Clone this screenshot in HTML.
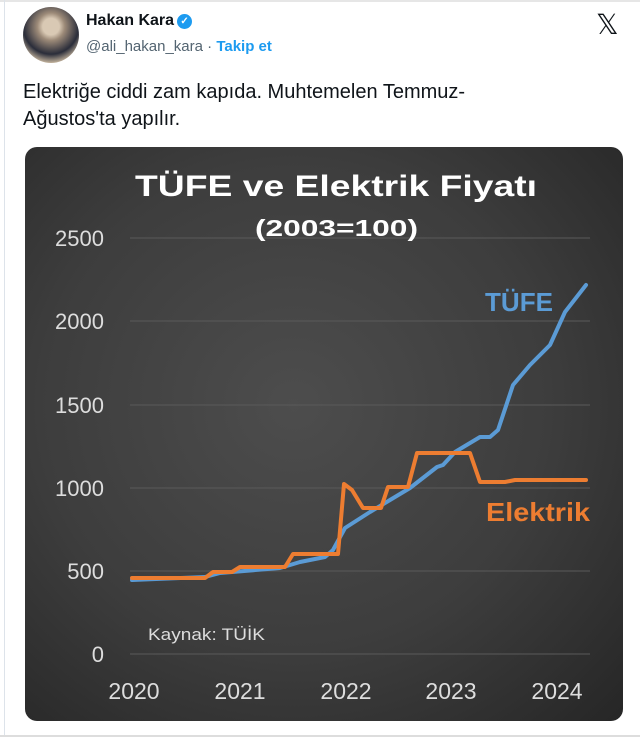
<!DOCTYPE html>
<html><head><meta charset="utf-8"><style>
body{margin:0;width:640px;height:737px;background:#fff;font-family:"Liberation Sans",sans-serif;position:relative;overflow:hidden}
.lb{position:absolute;left:4px;top:0;width:1px;height:737px;background:#dde3ea}
.tb{position:absolute;left:0;top:0;width:640px;height:2px;background:#e6e6e6}
.av{position:absolute;left:23px;top:7px;width:56px;height:56px;border-radius:50%;background:radial-gradient(circle at 50% 35%,#d9c9b4 0 18%,#9c8a78 30%,#2a2d3a 60%,#c9b8a0 80%)}
.name{position:absolute;left:86px;top:12px;font-weight:bold;font-size:16px;color:#0f1419}
.ver{display:inline-block;width:15px;height:15px;border-radius:50%;background:#1d9bf0;color:#fff;font-size:10px;text-align:center;line-height:15px;vertical-align:1px;margin-left:3px}
.handle{position:absolute;left:86px;top:38px;font-size:15px;color:#536471}
.handle b{color:#1d9bf0}
.x{position:absolute;left:596px;top:8px;font-size:28px;color:#0f1419}
.txt{position:absolute;left:23px;top:79px;font-size:20px;line-height:27px;color:#0f1419}
.card{position:absolute;left:25px;top:147px;width:598px;height:574px;border-radius:12px;background:radial-gradient(ellipse at 45% 45%,#4d4d4d 0%,#3d3d3d 55%,#262626 100%)}
.bot{position:absolute;left:0;top:735px;width:640px;height:2px;background:#ddd}
</style></head><body>
<div class="tb"></div><div class="lb"></div>
<div class="av"></div>
<div class="name">Hakan Kara<span class="ver">✓</span></div>
<div class="handle">@ali_hakan_kara · <b>Takip et</b></div>
<div class="x">𝕏</div>
<div class="txt">Elektriğe ciddi zam kapıda. Muhtemelen Temmuz-<br>Ağustos'ta yapılır.</div>
<div class="card"></div>
<svg width="640" height="737" style="position:absolute;left:0;top:0" font-family="Liberation Sans, sans-serif">
<g stroke="#5a5a5a" stroke-width="1">
<line x1="130" x2="590" y1="238" y2="238"/><line x1="130" x2="590" y1="321" y2="321"/><line x1="130" x2="590" y1="405" y2="405"/><line x1="130" x2="590" y1="488" y2="488"/><line x1="130" x2="590" y1="571" y2="571"/><line x1="130" x2="590" y1="654" y2="654"/>
</g>
<text x="135" y="196" fill="#fff" font-weight="bold" font-size="30" textLength="402" lengthAdjust="spacingAndGlyphs">TÜFE ve Elektrik Fiyatı</text>
<text x="255" y="236" fill="#fff" font-weight="bold" font-size="23" textLength="163" lengthAdjust="spacingAndGlyphs">(2003=100)</text>
<g fill="#ddd" font-size="22" text-anchor="end">
<text x="104" y="246">2500</text><text x="104" y="329">2000</text><text x="104" y="413">1500</text><text x="104" y="496">1000</text><text x="104" y="579">500</text><text x="104" y="662">0</text>
</g>
<g fill="#ddd" font-size="23" text-anchor="middle">
<text x="134" y="699">2020</text><text x="240" y="699">2021</text><text x="346" y="699">2022</text><text x="451" y="699">2023</text><text x="557" y="699">2024</text>
</g>
<text x="148" y="640" fill="#ddd" font-size="17" textLength="117" lengthAdjust="spacingAndGlyphs">Kaynak: TÜİK</text>
<text x="485" y="311" fill="#5b9bd5" font-weight="bold" font-size="26" textLength="68" lengthAdjust="spacingAndGlyphs">TÜFE</text>
<text x="486" y="521" fill="#ed7d31" font-weight="bold" font-size="26" textLength="104" lengthAdjust="spacingAndGlyphs">Elektrik</text>
<polyline fill="none" stroke="#5b9bd5" stroke-width="4" stroke-linejoin="round" stroke-linecap="round" points="132,580 205,577 220,573 280,568 300,562 325,557 333,550 345,528 370,512 390,500 410,488 437,467 443,465 455,452 470,443 480,437 490,437 498,430 513,385 530,365 550,345 565,312 586,285"/>
<polyline fill="none" stroke="#ed7d31" stroke-width="4" stroke-linejoin="round" stroke-linecap="round" points="132,578 205,578 213,572 232,572 240,567 285,567 293,554 338,554 344,484 352,490 363,508 381,508 388,487 408,487 417,453 470,453 480,482 505,482 515,480 586,480"/>
</svg>
<div class="bot"></div>
</body></html>
